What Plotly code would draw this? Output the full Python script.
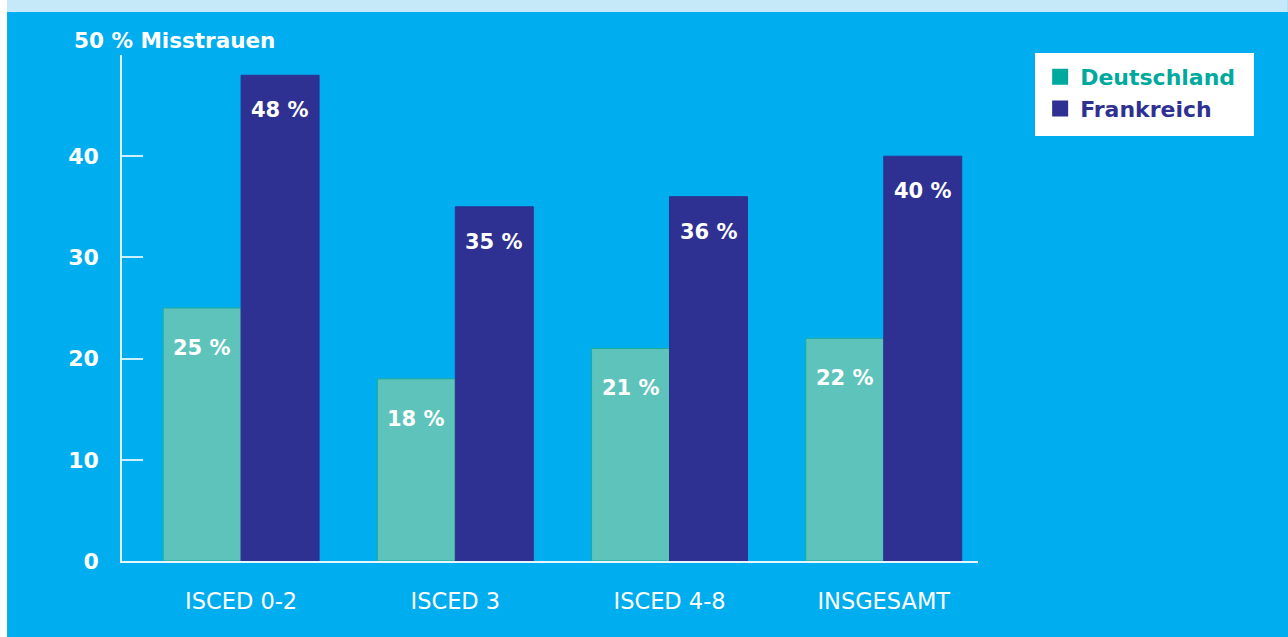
import plotly.graph_objects as go

categories = ["ISCED 0-2", "ISCED 3", "ISCED 4-8", "INSGESAMT"]
deutschland = [25, 18, 21, 22]
frankreich = [48, 35, 36, 40]
y_ticks = [0, 10, 20, 30, 40, 50]
y_ticktext = ["0", "10", "20", "30", "40", ""]

FONT = "DejaVu Sans"
BG = "#00aeef"
C_DE = "#5ec4bb"
C_DE_LINE = "#1aab9c"
C_DE_TEXT = "#00a99d"
C_FR = "#2e3192"

W = 0.364
xs = list(range(len(categories)))

fig = go.Figure()
fig.add_trace(go.Bar(x=xs, y=deutschland, width=W, offset=-W,
                     marker=dict(color=C_DE, line=dict(color=C_DE_LINE, width=1)),
                     showlegend=False, hoverinfo="skip"))
fig.add_trace(go.Bar(x=xs, y=frankreich, width=W, offset=0,
                     marker=dict(color=C_FR, line=dict(color=C_FR, width=1)),
                     showlegend=False, hoverinfo="skip"))
# legend entries
fig.add_trace(go.Scatter(x=[None], y=[None], mode="markers",
                         marker=dict(symbol="square", size=18, color=C_DE_TEXT),
                         name=f"<span style='color:{C_DE_TEXT}'>Deutschland</span>"))
fig.add_trace(go.Scatter(x=[None], y=[None], mode="markers",
                         marker=dict(symbol="square", size=18, color=C_FR),
                         name=f"<span style='color:{C_FR}'>Frankreich</span>"))

annotations = []
for i, v in enumerate(deutschland):
    annotations.append(dict(x=i - W / 2, y=v, text=f"<b>{v} %</b>", showarrow=False,
                            yshift=-40, font=dict(family=FONT, size=21, color="white")))
for i, v in enumerate(frankreich):
    annotations.append(dict(x=i + W / 2, y=v, text=f"<b>{v} %</b>", showarrow=False,
                            yshift=-35, font=dict(family=FONT, size=21, color="white")))
annotations.append(dict(xref="paper", yref="paper", x=-0.058, y=1.0277, xanchor="left",
                        yanchor="middle", text="<b>50 % Misstrauen</b>", showarrow=False,
                        font=dict(family=FONT, size=21.5, color="white")))

shapes = [
    dict(type="rect", xref="paper", yref="paper", x0=-0.1425, x1=1.362, y0=1.085, y1=1.11,
         fillcolor="#c6e9f9", line=dict(width=0), layer="below"),
    dict(type="rect", xref="paper", yref="paper", x0=-0.1425, x1=-0.1343, y0=-0.16, y1=1.11,
         fillcolor="white", line=dict(width=0), layer="below"),
    dict(type="rect", xref="paper", yref="paper", x0=1.0666, x1=1.3224, y0=0.840, y1=1.004,
         fillcolor="white", line=dict(width=0), layer="below"),
]

fig.update_layout(
    width=1288, height=637,
    margin=dict(l=122, r=310, t=55, b=76),
    paper_bgcolor=BG, plot_bgcolor=BG,
    barmode="overlay",
    font=dict(family=FONT, color="white"),
    annotations=annotations,
    shapes=shapes,
    legend=dict(x=1.0726, y=0.998, xanchor="left", yanchor="top",
                bgcolor="rgba(0,0,0,0)", borderwidth=0,
                font=dict(family=FONT, size=22, weight="bold"),
                itemsizing="trace", tracegroupgap=0),
    xaxis=dict(range=[-0.556, 3.44], tickvals=xs, ticktext=categories,
               showgrid=False, zeroline=False, showline=True, linecolor="#e6f6fd", linewidth=1.5,
               ticks="", tickfont=dict(family=FONT, size=22.5, color="white"),
               ticklabelstandoff=19, fixedrange=True),
    yaxis=dict(range=[0, 50], tickvals=y_ticks, ticktext=y_ticktext,
               showgrid=False, zeroline=False, showline=True, linecolor="#e6f6fd", linewidth=1.5,
               ticks="inside", ticklen=21, tickcolor="#cdeefb", tickwidth=1.5,
               tickfont=dict(family=FONT, size=22, color="white", weight="bold"),
               ticklabelstandoff=17, fixedrange=True),
)

fig.write_html("out.html", config={"displayModeBar": False},
               post_script="document.body.style.margin='0px';")
